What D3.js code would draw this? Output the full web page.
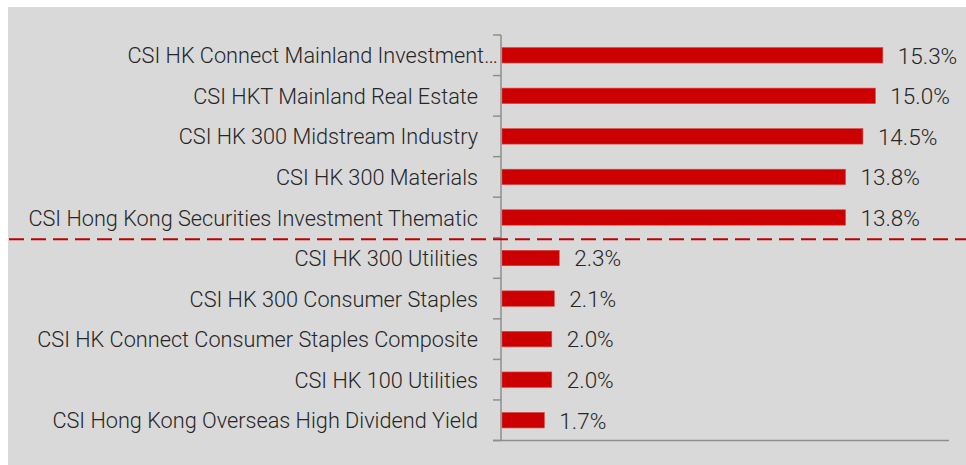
<!DOCTYPE html>
<html>
<head>
<meta charset="utf-8">
<script src="https://cdn.jsdelivr.net/npm/d3@7"></script>
<style>
  html, body { margin: 0; padding: 0; background: #ffffff; }
  svg { display: block; }
</style>
</head>
<body>
<svg id="chart" width="966" height="465"></svg>
<script>
const categories = [
  "CSI HK Connect Mainland Investment…",
  "CSI HKT Mainland Real Estate",
  "CSI HK 300 Midstream Industry",
  "CSI HK 300 Materials",
  "CSI Hong Kong Securities Investment Thematic",
  "CSI HK 300 Utilities",
  "CSI HK 300 Consumer Staples",
  "CSI HK Connect Consumer Staples Composite",
  "CSI HK 100 Utilities",
  "CSI Hong Kong Overseas High Dividend Yield"
];
const values = [15.3, 15.0, 14.5, 13.8, 13.8, 2.3, 2.1, 2.0, 2.0, 1.7];
const valueLabels = ["15.3%", "15.0%", "14.5%", "13.8%", "13.8%", "2.3%", "2.1%", "2.0%", "2.0%", "1.7%"];
const xDomain = [0, 18];
const dividerAfter = 5; // dashed line after the top 5

(function () {
const svg = d3.select("#chart");
const W = 966, H = 465;

svg.append("rect").attr("x", 8).attr("y", 7).attr("width", W - 8).attr("height", H - 7).attr("fill", "#d9d9d9");

const pL = 501, pR = 949, pT = 35, pB = 440.5;
const x = d3.scaleLinear().domain(xDomain).range([pL, pR]);
const y = d3.scaleBand().domain(categories).range([pT, pB]).paddingInner(0.62).paddingOuter(0.31);

const font = "Roboto, 'Liberation Sans', sans-serif";
const textColor = "#262626";
const axisColor = "#8e8e8e";

svg.append("g").selectAll("rect").data(categories).join("rect")
  .attr("x", x(0) + 1)
  .attr("y", d => y(d))
  .attr("width", (d, i) => x(values[i]) - x(0))
  .attr("height", y.bandwidth())
  .attr("fill", "#cc0000")
  .attr("stroke", "#d84040")
  .attr("stroke-width", 0.6);

svg.append("g").selectAll("text").data(categories).join("text")
  .attr("x", (d, i) => x(values[i]) + 16)
  .attr("y", d => y(d) + y.bandwidth() / 2)
  .attr("dy", "0.37em")
  .attr("font-family", font)
  .attr("font-weight", 300)
  .attr("font-size", 22.5)
  .attr("fill", textColor)
  .text((d, i) => valueLabels[i]);

svg.append("g").selectAll("text").data(categories).join("text")
  .attr("x", d => d.endsWith("…") ? pL - 3 : pL - 23)
  .attr("y", d => y(d) + y.bandwidth() / 2)
  .attr("dy", "0.37em")
  .attr("text-anchor", "end")
  .attr("font-family", font)
  .attr("font-weight", 300)
  .attr("font-size", 21.7)
  .attr("fill", textColor)
  .text(d => d);

const boundaries = d3.range(categories.length + 1).map(i => pT + i * (pB - pT) / categories.length);
const axisG = svg.append("g");
axisG.append("line").attr("x1", pL).attr("x2", pL).attr("y1", pT).attr("y2", pB)
  .attr("stroke", axisColor).attr("stroke-width", 1.5);
axisG.selectAll("line.tick").data(boundaries).join("line").attr("class", "tick")
  .attr("x1", pL - 8).attr("x2", pL).attr("y1", d => d).attr("y2", d => d)
  .attr("stroke", axisColor).attr("stroke-width", 1.5);
axisG.append("line").attr("x1", pL - 8).attr("x2", x(xDomain[1])).attr("y1", pB).attr("y2", pB)
  .attr("stroke", axisColor).attr("stroke-width", 1.5);

const divY = boundaries[dividerAfter] + 1.5;
svg.append("line").attr("x1", 9).attr("x2", W).attr("y1", divY).attr("y2", divY)
  .attr("stroke", "#c00000").attr("stroke-width", 2).attr("stroke-dasharray", "15,7");
})();
</script>
</body>
</html>
